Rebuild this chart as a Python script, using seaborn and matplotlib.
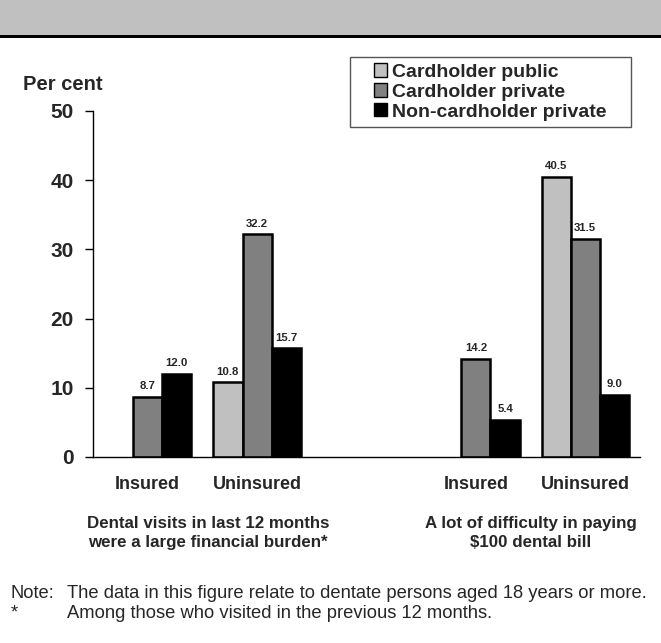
import matplotlib
matplotlib.use("Agg")
import matplotlib.pyplot as plt
from matplotlib.patches import Rectangle, Patch
import seaborn as sns
import pandas as pd
import numpy as np

# ---- data ----
categories = ["g1_ins", "g1_unins", "gap", "g2_ins", "g2_unins"]
tick_labels = ["Insured", "Uninsured", "", "Insured", "Uninsured"]
series = ["Cardholder public", "Cardholder private", "Non-cardholder private"]
cardholder_public = [np.nan, 10.8, np.nan, np.nan, 40.5]
cardholder_private = [8.7, 32.2, np.nan, 14.2, 31.5]
noncardholder_private = [12.0, 15.7, np.nan, 5.4, 9.0]
group_labels = ["Dental visits in last 12 months\nwere a large financial burden*",
                "A lot of difficulty in paying\n$100 dental bill"]
colors = ["#C0C0C0", "#808080", "#000000"]

rows = []
for s, vals in zip(series, [cardholder_public, cardholder_private, noncardholder_private]):
    for c, v in zip(categories, vals):
        if not np.isnan(v):
            rows.append({"cat": c, "series": s, "value": v})
df = pd.DataFrame(rows)

sns.set_style("white")
plt.rcParams["font.family"] = ["Liberation Sans", "DejaVu Sans"]

W, H = 661, 643
fig = plt.figure(figsize=(W / 100, H / 100), dpi=100)
ax = fig.add_axes([93 / W, 1 - 457 / H, (640 - 93) / W, (457 - 111) / H])

sns.barplot(data=df, x="cat", y="value", hue="series", order=categories,
            hue_order=series, palette=colors, width=0.8, edgecolor="black",
            linewidth=1.8, saturation=1, ax=ax, legend=False, errorbar=None)

for cont in ax.containers:
    labels = []
    for bar in cont:
        h = bar.get_height()
        labels.append("" if (h is None or np.isnan(h) or h == 0) else f"{h:.1f}")
    ax.bar_label(cont, labels=labels, padding=4, fontsize=8.2, fontweight="bold")

ax.set_xlim(-0.5, 4.5)
ax.set_ylim(0, 50)
ax.set_yticks([0, 10, 20, 30, 40, 50])
ax.set_yticklabels(["0", "10", "20", "30", "40", "50"], fontsize=15, fontweight="bold")
ax.set_xticks(range(len(categories)))
ax.set_xticklabels(tick_labels, fontsize=13, fontweight="bold")
ax.set_xticks(np.arange(-0.5, 4.6, 1.0), minor=True)
ax.tick_params(axis="x", which="major", length=0, pad=14)
ax.tick_params(axis="x", which="minor", length=6, width=1, color="black", direction="out")
ax.tick_params(axis="y", length=6, width=1, color="black", direction="out", pad=8, left=True)
ax.set_xlabel("")
ax.set_ylabel("")
for side in ["top", "right"]:
    ax.spines[side].set_visible(False)
for side in ["left", "bottom"]:
    ax.spines[side].set_color("black")
    ax.spines[side].set_linewidth(1)

# header band
fig.patches.append(Rectangle((0, 1 - 36 / H), 1, 36 / H, transform=fig.transFigure,
                             facecolor="#C0C0C0", edgecolor="none", zorder=0))
fig.patches.append(Rectangle((0, 1 - 38 / H), 1, 2.5 / H, transform=fig.transFigure,
                             facecolor="black", edgecolor="none", zorder=1))

fig.text(63 / W, 1 - 84 / H, "Per cent", fontsize=14.5, fontweight="bold", ha="center", va="center")

# group labels
for gx, lab in zip([208, 531], group_labels):
    fig.text(gx / W, 1 - 533 / H, lab, fontsize=12.2, fontweight="bold", ha="center",
             va="center", linespacing=1.3)

# legend: frame drawn separately
fig.patches.append(Rectangle((350 / W, 1 - 127 / H), (631 - 350) / W, (127 - 57) / H,
                             transform=fig.transFigure, facecolor="white",
                             edgecolor="#555555", linewidth=1, zorder=2))
handles = [Patch(facecolor=c, edgecolor="black", linewidth=1) for c in colors]
leg = fig.legend(handles, series, loc="center left", bbox_to_anchor=(374 / W, 1 - 92 / H),
                 bbox_transform=fig.transFigure, frameon=False,
                 prop={"weight": "bold", "size": 14}, handlelength=0.68, handleheight=0.68,
                 handletextpad=0.25, labelspacing=0.12, borderpad=0, borderaxespad=0)
leg.set_zorder(3)

# notes
fig.text(11 / W, 1 - 593 / H, "Note:", fontsize=13.2, va="center", ha="left")
fig.text(67 / W, 1 - 593 / H, "The data in this figure relate to dentate persons aged 18 years or more.",
         fontsize=13.2, va="center", ha="left")
fig.text(11 / W, 1 - 613 / H, "*", fontsize=13.2, va="center", ha="left")
fig.text(67 / W, 1 - 613 / H, "Among those who visited in the previous 12 months.",
         fontsize=13.2, va="center", ha="left")

fig.savefig("out.png", dpi=100)
